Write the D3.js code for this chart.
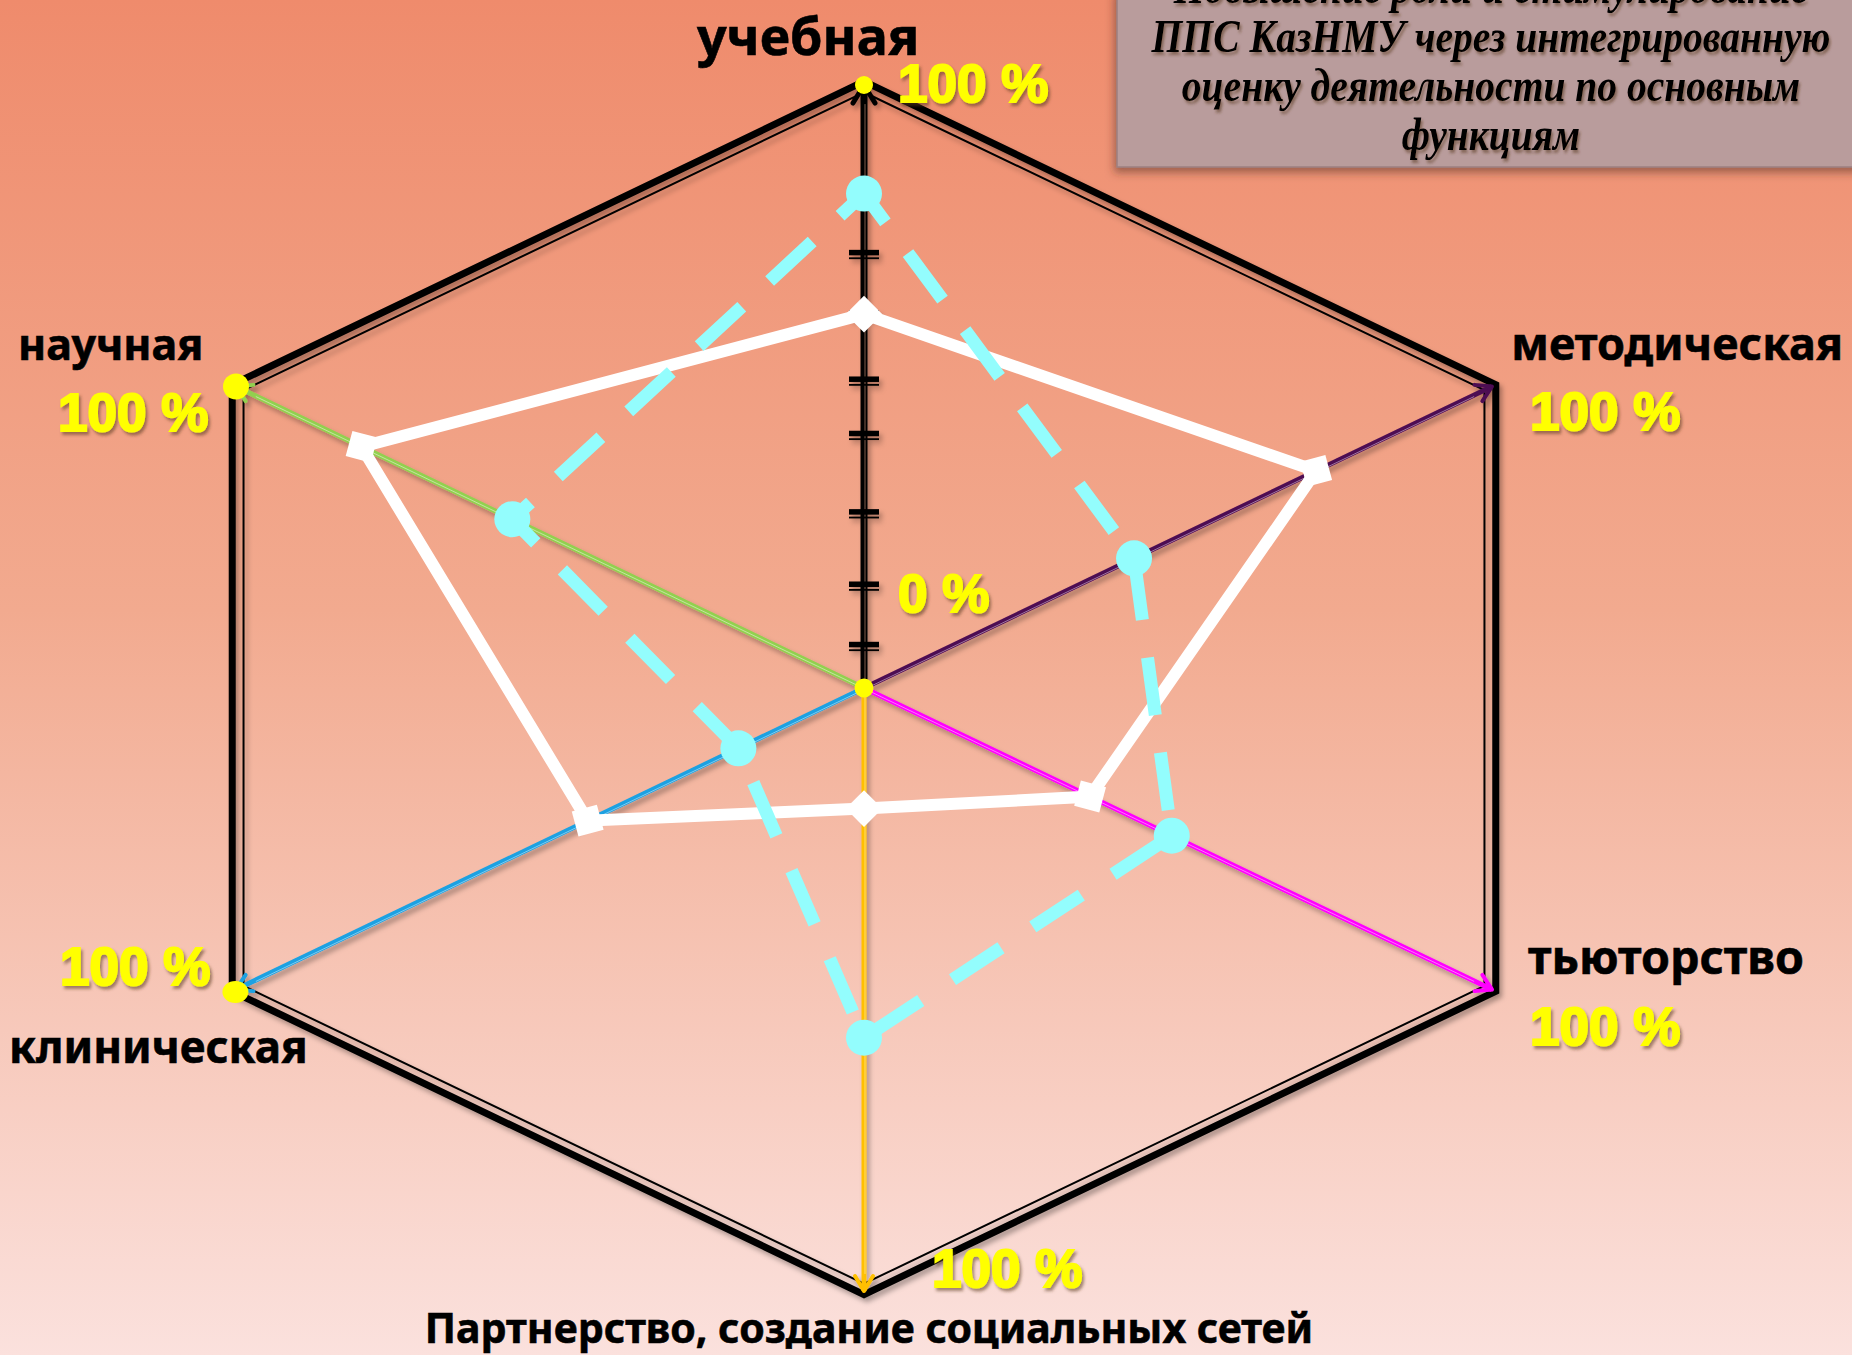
<!DOCTYPE html>
<html>
<head>
<meta charset="utf-8">
<script src="https://cdn.jsdelivr.net/npm/d3@7"></script>
<style>
  html, body { margin: 0; padding: 0; overflow: hidden; }
  svg { display: block; }
</style>
</head>
<body>
<svg id="chart"></svg>
<script>
// axes go clockwise from the top
const axisNames = ["учебная", "методическая", "тьюторство", "Партнерство, создание социальных сетей", "клиническая", "научная"];
const whiteValues = [62, 72, 36, 20, 44, 80];
const cyanValues = [82, 43, 49, 58, 20, 56];
const tickValues = [7, 17, 29, 42, 51, 62, 72];
const maxLabel = "100 %";
const zeroLabel = "0 %";
const titleLines = [
  "Повышение роли и стимулирование",
  "ППС КазНМУ через интегрированную",
  "оценку деятельности по основным",
  "функциям"
];

const axisColors = ["#000000", "#4d0a52", "#ff00ff", "#ffc000", "#1ba1e2", "#92d050"];

const width = 1852;
const height = 1355;
const cx = 864;
const cy = 688;
const rx = 628 / Math.sin(Math.PI / 3);
const ry = 603;

const svg = d3.select("#chart").attr("width", width).attr("height", height);
const defs = svg.append("defs");

// background gradient
const bg = defs.append("linearGradient").attr("id", "bg").attr("x1", 0).attr("y1", 0).attr("x2", 0).attr("y2", 1);
bg.append("stop").attr("offset", "0%").attr("stop-color", "#ef8b6c");
bg.append("stop").attr("offset", "45%").attr("stop-color", "#f2aa8f");
bg.append("stop").attr("offset", "100%").attr("stop-color", "#fbe1dd");

const shadow = defs.append("filter").attr("id", "shadow").attr("x", "-10%").attr("y", "-10%").attr("width", "130%").attr("height", "130%");
shadow.append("feDropShadow").attr("dx", 3).attr("dy", 4).attr("stdDeviation", 2.5).attr("flood-color", "#000").attr("flood-opacity", 0.3);

const textShadow = defs.append("filter").attr("id", "tshadow").attr("x", "-10%").attr("y", "-20%").attr("width", "130%").attr("height", "150%");
textShadow.append("feDropShadow").attr("dx", 2).attr("dy", 3).attr("stdDeviation", 1.5).attr("flood-color", "#5a3a20").attr("flood-opacity", 0.55);

const boxShadow = defs.append("filter").attr("id", "bshadow").attr("x", "-10%").attr("y", "-10%").attr("width", "130%").attr("height", "140%");
boxShadow.append("feDropShadow").attr("dx", -2).attr("dy", 5).attr("stdDeviation", 4).attr("flood-color", "#4a2a20").attr("flood-opacity", 0.5);

svg.append("rect").attr("width", width).attr("height", height).attr("fill", "url(#bg)");

// scales
const angle = d3.scaleLinear().domain([0, axisNames.length]).range([0, 2 * Math.PI]);
const radius = d3.scaleLinear().domain([0, 100]).range([0, 1]);
const px = (i, v) => cx + rx * radius(v) * Math.sin(angle(i));
const py = (i, v) => cy - ry * radius(v) * Math.cos(angle(i));

// title box
svg.append("rect")
  .attr("x", 1117).attr("y", -10)
  .attr("width", 760).attr("height", 177)
  .attr("fill", "#b99c9c")
  .attr("stroke", "#9c7f80").attr("stroke-width", 1.5)
  .attr("filter", "url(#bshadow)");

svg.append("g")
  .attr("filter", "url(#tshadow)")
  .attr("transform", "translate(1491,0) scale(0.86,1)")
  .selectAll("text")
  .data(titleLines)
  .enter()
  .append("text")
  .attr("x", 0)
  .attr("y", (d, i) => 3 + i * 49)
  .attr("text-anchor", "middle")
  .style("font-family", "'Liberation Serif', 'DejaVu Serif', serif")
  .style("font-weight", "bold")
  .style("font-style", "italic")
  .style("font-size", "46px")
  .attr("fill", "#000")
  .text((d) => d);

// hexagon frame (thick outer + thin inner)
const idx = d3.range(axisNames.length);
const hexLine = d3.line().curve(d3.curveLinearClosed);
const frame = svg.append("g").attr("filter", "url(#shadow)");
frame.append("path")
  .attr("d", hexLine(idx.map((i) => [px(i, 100.6), py(i, 100.6)])))
  .attr("fill", "none").attr("stroke", "#000").attr("stroke-width", 7)
  .attr("stroke-linejoin", "miter");
frame.append("path")
  .attr("d", hexLine(idx.map((i) => [px(i, 98.8), py(i, 98.8)])))
  .attr("fill", "none").attr("stroke", "#000").attr("stroke-width", 2)
  .attr("stroke-linejoin", "miter");

// arrow markers
axisColors.forEach((c, i) => {
  const big = i === 0;
  defs.append("marker")
    .attr("id", "arrow" + i)
    .attr("viewBox", "-24 -14 30 28")
    .attr("refX", 0).attr("refY", 0)
    .attr("markerUnits", "userSpaceOnUse")
    .attr("markerWidth", 30).attr("markerHeight", 28)
    .attr("orient", "auto")
    .append("path")
    .attr("d", big ? "M-18,-11 L0,0 L-18,11" : "M-15,-9 L0,0 L-15,9")
    .attr("fill", "none")
    .attr("stroke", c)
    .attr("stroke-width", big ? 5 : 4)
    .attr("stroke-linecap", "round")
    .attr("stroke-linejoin", "round");
});

// axes
const axesG = svg.append("g").attr("filter", "url(#shadow)");
axesG.selectAll(".axis")
  .data(idx)
  .enter()
  .append("line")
  .attr("class", "axis")
  .attr("x1", cx).attr("y1", cy)
  .attr("x2", (i) => px(i, 100)).attr("y2", (i) => py(i, 100))
  .attr("stroke", (i) => axisColors[i])
  .attr("stroke-width", (i) => (i === 0 ? 7 : 5))
  .attr("marker-end", (i) => `url(#arrow${i})`);

axesG.selectAll(".stripe")
  .data(idx)
  .enter()
  .append("line")
  .attr("class", "stripe")
  .attr("x1", cx).attr("y1", cy)
  .attr("x2", (i) => px(i, 97)).attr("y2", (i) => py(i, 97))
  .attr("transform", "translate(1,1)")
  .attr("stroke", (i) => (i === 0 ? "rgba(255,180,150,0.5)" : "rgba(255,255,255,0.45)"))
  .attr("stroke-width", 1);

// ticks on the vertical axis
const ticks = axesG.selectAll(".tick")
  .data(tickValues)
  .enter()
  .append("g")
  .attr("class", "tick")
  .attr("transform", (d) => `translate(${px(0, d)},${py(0, d)})`);
ticks.append("rect").attr("x", -15).attr("y", -4).attr("width", 30).attr("height", 5.5).attr("fill", "#000");
ticks.append("rect").attr("x", -15).attr("y", 3.5).attr("width", 30).attr("height", 1.8).attr("fill", "#000");

// white series
const seriesLine = d3.line().curve(d3.curveLinearClosed);
svg.append("path")
  .attr("d", seriesLine(whiteValues.map((v, i) => [px(i, v), py(i, v)])))
  .attr("fill", "none")
  .attr("stroke", "#ffffff")
  .attr("stroke-width", 12)
  .attr("stroke-linejoin", "miter");

svg.selectAll(".wmark")
  .data(whiteValues)
  .enter()
  .append("rect")
  .attr("class", "wmark")
  .attr("x", -13).attr("y", -13)
  .attr("width", 26).attr("height", 26)
  .attr("fill", "#ffffff")
  .attr("transform", (v, i) => `translate(${px(i, v)},${py(i, v)}) rotate(${45 - (angle(i) * 180) / Math.PI})`);

// cyan dashed series
svg.append("path")
  .attr("d", seriesLine(cyanValues.map((v, i) => [px(i, v), py(i, v)])))
  .attr("fill", "none")
  .attr("stroke", "#93fdfd")
  .attr("stroke-width", 13)
  .attr("stroke-dasharray", "58,38")
  .attr("stroke-dashoffset", 22);

svg.selectAll(".cmark")
  .data(cyanValues)
  .enter()
  .append("circle")
  .attr("class", "cmark")
  .attr("cx", (v, i) => px(i, v))
  .attr("cy", (v, i) => py(i, v))
  .attr("r", 18)
  .attr("fill", "#93fdfd");

// yellow dots
const dots = [
  { i: 0, v: 100, r: 9 },
  { i: 5, v: 100, r: 13 },
  { i: 4, v: 98.5, r: 13 },
  { i: 0, v: 0, r: 9.5 }
];
svg.selectAll(".dot")
  .data(dots)
  .enter()
  .append("ellipse")
  .attr("class", "dot")
  .attr("cx", (d) => px(d.i, d.v) - (d.i === 4 ? 10 : 0))
  .attr("cy", (d) => py(d.i, d.v) + (d.i === 4 ? 7 : 0))
  .attr("rx", (d) => d.r)
  .attr("ry", (d) => (d.i === 4 ? d.r - 2 : d.r))
  .attr("fill", "#ffff00");

// axis labels
const labelFont = "'Noto Sans', 'Open Sans', 'DejaVu Sans', sans-serif";
const labelPos = [
  { x: 808, y: 55, size: 52, anchor: "middle" },
  { x: 1843, y: 360, size: 45, anchor: "end" },
  { x: 1528, y: 974, size: 46.5, anchor: "start" },
  { x: 869, y: 1343, size: 41, anchor: "middle" },
  { x: 9, y: 1063, size: 44, anchor: "start" },
  { x: 18, y: 360, size: 43, anchor: "start" }
];
svg.selectAll(".label")
  .data(axisNames)
  .enter()
  .append("text")
  .attr("class", "label")
  .attr("x", (d, i) => labelPos[i].x)
  .attr("y", (d, i) => labelPos[i].y)
  .attr("text-anchor", (d, i) => labelPos[i].anchor)
  .style("font-family", labelFont)
  .style("font-weight", "bold")
  .style("font-size", (d, i) => labelPos[i].size + "px")
  .attr("fill", "#000")
  .attr("stroke", "#000")
  .attr("stroke-width", 0.6)
  .text((d) => d);

// percent labels
const pctPos = [
  { x: 898, y: 102 },
  { x: 1530, y: 430 },
  { x: 1530, y: 1045 },
  { x: 932, y: 1287 },
  { x: 60, y: 985 },
  { x: 58, y: 431 }
];
const pct = svg.append("g").attr("filter", "url(#tshadow)");
pct.selectAll(".pct")
  .data(pctPos)
  .enter()
  .append("text")
  .attr("class", "pct")
  .attr("x", (d) => d.x)
  .attr("y", (d) => d.y)
  .style("font-family", "'Liberation Sans', Arial, sans-serif")
  .style("font-weight", "bold")
  .style("font-size", "53px")
  .attr("fill", "#ffff00")
  .attr("stroke", "#ffff00")
  .attr("stroke-width", 2.2)
  .text(maxLabel);

pct.append("text")
  .attr("x", 898)
  .attr("y", 612)
  .style("font-family", "'Liberation Sans', Arial, sans-serif")
  .style("font-weight", "bold")
  .style("font-size", "53px")
  .attr("fill", "#ffff00")
  .attr("stroke", "#ffff00")
  .attr("stroke-width", 2.2)
  .text(zeroLabel);
</script>
</body>
</html>
